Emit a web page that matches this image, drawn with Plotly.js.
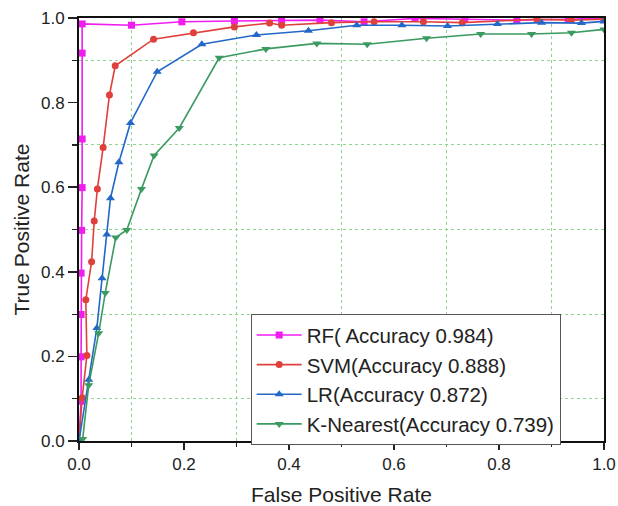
<!DOCTYPE html>
<html>
<head>
<meta charset="utf-8">
<script src="https://cdn.plot.ly/plotly-3.0.1.min.js"></script>
<style>
  html, body { margin: 0; padding: 0; background: #fff; }
  #chart { width: 618px; height: 506px; }
</style>
</head>
<body>
<div id="chart"></div>
<script>
// ROC curves (false positive rate vs. true positive rate) for four classifiers
const rfFpr = [0, 0.004, 0.004, 0.004, 0.004, 0.005, 0.006, 0.006, 0.006, 0.006, 0.100, 0.196, 0.296, 0.386, 0.459, 0.543, 0.640, 0.735, 0.834, 0.932, 1.0];
const rfTpr = [0, 0.094, 0.199, 0.299, 0.397, 0.498, 0.599, 0.714, 0.917, 0.986, 0.983, 0.991, 0.993, 0.995, 0.995, 0.991, 0.999, 0.997, 0.995, 0.997, 1.0];

const svmFpr = [0, 0.006, 0.015, 0.013, 0.024, 0.029, 0.035, 0.046, 0.058, 0.069, 0.142, 0.218, 0.296, 0.363, 0.386, 0.481, 0.562, 0.656, 0.730, 0.872, 0.938, 1.0];
const svmTpr = [0, 0.102, 0.202, 0.334, 0.424, 0.520, 0.596, 0.694, 0.818, 0.887, 0.950, 0.965, 0.979, 0.988, 0.983, 0.989, 0.991, 0.991, 0.989, 0.997, 0.995, 0.997];

const lrFpr = [0, 0.0185, 0.034, 0.044, 0.053, 0.060, 0.076, 0.098, 0.149, 0.234, 0.338, 0.437, 0.529, 0.615, 0.702, 0.797, 0.881, 0.957, 1.0];
const lrTpr = [0, 0.145, 0.267, 0.385, 0.488, 0.574, 0.659, 0.752, 0.873, 0.938, 0.960, 0.970, 0.983, 0.983, 0.981, 0.986, 0.989, 0.988, 0.992];

const knnFpr = [0.007, 0.0185, 0.0375, 0.050, 0.070, 0.091, 0.119, 0.143, 0.191, 0.267, 0.356, 0.453, 0.549, 0.662, 0.765, 0.862, 0.938, 1.0];
const knnTpr = [0.005, 0.132, 0.255, 0.350, 0.481, 0.499, 0.596, 0.675, 0.740, 0.906, 0.927, 0.940, 0.938, 0.952, 0.962, 0.962, 0.965, 0.973];

const seriesNames = [
  'RF( Accuracy 0.984)',
  'SVM(Accuracy 0.888)',
  'LR(Accuracy 0.872)',
  'K-Nearest(Accuracy 0.739)'
];

const FONT = 'Liberation Sans, Arial, sans-serif';

function curve(x, y, name, color, symbol, size) {
  return {
    x: x, y: y, name: name,
    type: 'scatter', mode: 'lines+markers',
    line: { color: color, width: 1.6 },
    marker: { color: color, symbol: symbol, size: size }
  };
}

const traces = [
  curve(rfFpr, rfTpr, seriesNames[0], '#f01cf0', 'square', 7),
  curve(svmFpr, svmTpr, seriesNames[1], '#e0403c', 'circle', 7),
  curve(lrFpr, lrTpr, seriesNames[2], '#2368c8', 'triangle-up', 8),
  curve(knnFpr, knnTpr, seriesNames[3], '#3a9a60', 'triangle-down', 8)
];

const gridMinor = {
  dtick: 0.1, ticks: 'outside', ticklen: 4, tickwidth: 1.2, tickcolor: '#222',
  showgrid: true, gridcolor: '#8fd48f', griddash: 'dot', gridwidth: 1
};

const layout = {
  width: 618, height: 506,
  margin: { l: 79, r: 14, t: 18, b: 65 },
  paper_bgcolor: '#fff', plot_bgcolor: '#fff',
  font: { family: FONT, color: '#222', size: 17 },
  showlegend: true,
  legend: {
    x: 0.327, y: 0.300, xanchor: 'left', yanchor: 'top',
    bgcolor: '#fff', bordercolor: '#555', borderwidth: 1,
    font: { family: FONT, size: 20.5, color: '#222' },
    itemwidth: 45, tracegroupgap: 0
  },
  xaxis: {
    range: [0, 1], dtick: 0.2, tickformat: '.1f',
    showgrid: false, zeroline: false,
    showline: true, linecolor: '#111', linewidth: 2, mirror: true,
    ticks: 'outside', ticklen: 7, tickwidth: 1.5, tickcolor: '#222',
    tickfont: { size: 17 },
    minor: gridMinor,
    title: { text: 'False Positive Rate', font: { size: 21 }, standoff: 16 }
  },
  yaxis: {
    range: [0, 1], dtick: 0.2, tickformat: '.1f',
    showgrid: false, zeroline: false,
    showline: true, linecolor: '#111', linewidth: 2, mirror: true,
    ticks: 'outside', ticklen: 9, tickwidth: 1.5, tickcolor: '#222',
    tickfont: { size: 17 },
    minor: Object.assign({}, gridMinor, { ticklen: 5 }),
    title: { text: 'True Positive Rate', font: { size: 21 }, standoff: 6 }
  }
};

Plotly.newPlot('chart', traces, layout, { displayModeBar: false, staticPlot: true });
</script>
</body>
</html>
